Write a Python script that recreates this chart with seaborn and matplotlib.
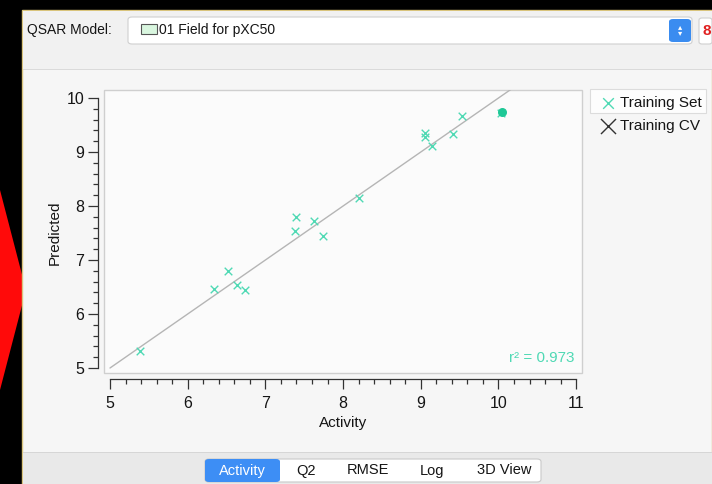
import numpy as np
import pandas as pd
import matplotlib
matplotlib.use('Agg')
import matplotlib.pyplot as plt
import matplotlib.patches as mpatches
from matplotlib.ticker import MultipleLocator
import seaborn as sns

# observed vs predicted activity (training set)
activity = [5.39, 6.34, 6.52, 6.64, 6.74, 7.38, 7.40, 7.63, 7.74, 8.20,
            9.05, 9.05, 9.14, 9.41, 9.53, 10.03]
predicted = [5.31, 6.46, 6.80, 6.53, 6.44, 7.54, 7.79, 7.72, 7.44, 8.15,
             9.36, 9.27, 9.12, 9.33, 9.67, 9.72]
selected_activity = [10.04]
selected_predicted = [9.75]
cv_activity = []
cv_predicted = []
identity_range = [5, 11]
r2 = 0.973

x_ticks = [5, 6, 7, 8, 9, 10, 11]
y_ticks = [5, 6, 7, 8, 9, 10]
tabs = ['Activity', 'Q2', 'RMSE', 'Log', '3D View']

W, H = 712, 484
TEAL = '#4fd9b4'
INK = '#151515'

sns.set_theme(style='white')
plt.rcParams['font.family'] = ['Liberation Sans', 'DejaVu Sans']


def fx(px):
    return px / W


def fy(py):
    return 1 - py / H


def box(fig, x0, y0, x1, y1, fc, ec='none', lw=1.0, round_=0, z=-1):
    if round_:
        p = mpatches.FancyBboxPatch((fx(x0), fy(y1)), (x1 - x0) / W, (y1 - y0) / H,
                                    boxstyle=f'round,pad=0,rounding_size={round_ / W}',
                                    transform=fig.transFigure, fc=fc, ec=ec, lw=lw, zorder=z)
    else:
        p = mpatches.Rectangle((fx(x0), fy(y1)), (x1 - x0) / W, (y1 - y0) / H,
                               transform=fig.transFigure, fc=fc, ec=ec, lw=lw, zorder=z)
    fig.patches.append(p)
    return p


fig = plt.figure(figsize=(W / 100, H / 100), dpi=100, facecolor='black')

# red arrow at the left edge
fig.patches.append(mpatches.Polygon([(fx(0), fy(190)), (fx(26), fy(290)), (fx(0), fy(390))],
                                    closed=True, transform=fig.transFigure, fc='#ff0a0a', ec='none',
                                    zorder=-1))

# window
box(fig, 22, 10, 712, 484, '#f6f6f6', ec='#d9c47c', lw=1.0)
box(fig, 23, 11, 712, 69, '#f1f1f1')
box(fig, 23, 69, 712, 70, '#dadada')

# model selector
fig.text(fx(27), fy(30), 'QSAR Model:', fontsize=10, color=INK, va='center')
box(fig, 128, 17, 692, 44, 'white', ec='#cfcfcf', lw=0.8, round_=4)
box(fig, 669, 19, 691, 42, '#3a8cf0', round_=4)
fig.text(fx(680), fy(30.5), '\u25b4\n\u25be', fontsize=6, color='white', ha='center', va='center',
         linespacing=0.7)
box(fig, 141, 24, 157, 34, '#d9f6df', ec='#555', lw=0.8)
fig.text(fx(159), fy(30), '01 Field for pXC50', fontsize=10, color=INK, va='center')
box(fig, 699, 18, 712, 44, 'white', ec='#cfcfcf', lw=0.8, round_=3)
fig.text(fx(707), fy(31), '8', fontsize=11, color='#e02020', ha='center', va='center', weight='bold')

# plot frame
box(fig, 104, 90, 582, 373, '#fbfbfb', ec='#cfcfcf', lw=1.0)

# bottom tab bar
box(fig, 23, 452, 712, 484, '#e9e9e9')
box(fig, 23, 452, 712, 453, '#d6d6d6')
box(fig, 205, 459, 541, 482, 'white', ec='#c9c9c9', lw=0.8, round_=4)
box(fig, 205, 459, 280, 482, '#3d8ef5', round_=4)
tab_x = [242, 306, 368, 432, 504]
for label, px in zip(tabs, tab_x):
    fig.text(fx(px), fy(470.5), label, fontsize=10.5, ha='center', va='center',
             color='white' if label == 'Activity' else INK)

# the plot itself
ax = fig.add_axes([fx(104), fy(375), (582 - 104) / W, (375 - 90) / H])
ax.set_facecolor('none')

df = pd.DataFrame({'Activity': activity, 'Predicted': predicted})
ax.plot(identity_range, identity_range, color='#b5b5b5', lw=1.0, zorder=1)
sns.scatterplot(data=df, x='Activity', y='Predicted', marker='x', color=TEAL, s=30,
                linewidth=1.0, ax=ax, label='Training Set', zorder=3)
ax.scatter(selected_activity, selected_predicted, marker='o', s=30, color='#1ec896', zorder=4)
ax.scatter(cv_activity, cv_predicted, marker='x', s=60, color='#333333', linewidth=1.0,
           label='Training CV')

ax.set_xlim(5 - 6 / 77.7, 5 + 472 / 77.7)
ax.set_ylim(5 - 7 / 54, 10 + 8 / 54)

ax.set_xticks(x_ticks)
ax.set_yticks(y_ticks)
ax.xaxis.set_minor_locator(MultipleLocator(0.2))
ax.yaxis.set_minor_locator(MultipleLocator(0.2))
ax.tick_params(which='major', direction='out', length=7, width=0.9, color='#333',
               labelsize=11.5, labelcolor=INK, pad=3)
ax.tick_params(axis='x', which='major', pad=5)
ax.tick_params(which='minor', direction='out', length=3.5, width=0.9, color='#333')
ax.tick_params(axis='x', which='both', bottom=True)
ax.tick_params(axis='y', which='both', left=True)

for side in ['top', 'right']:
    ax.spines[side].set_visible(False)
ax.spines['left'].set_position(('outward', 4.3))
ax.spines['bottom'].set_position(('outward', 3.0))
ax.spines['left'].set_bounds(5, 10)
ax.spines['bottom'].set_bounds(5, 11)
for side in ['left', 'bottom']:
    ax.spines[side].set_color('#333')
    ax.spines[side].set_linewidth(0.9)

ax.set_xlabel('Activity', fontsize=11, color=INK, labelpad=4)
ax.set_ylabel('Predicted', fontsize=11, color=INK, labelpad=3)

ax.text(0.985, 0.06, f'r\u00b2 = {r2:.3f}', transform=ax.transAxes, ha='right', va='center',
        fontsize=11, color=TEAL)

# legend at the right
box(fig, 590, 89, 706, 113, '#fdfdfd', ec='#dcdcdc', lw=0.8)
leg = ax.legend(loc='upper left', bbox_to_anchor=(fx(594), fy(90)),
                bbox_transform=fig.transFigure, frameon=False, fontsize=11,
                handletextpad=0.3, handlelength=1.0, borderaxespad=0, labelspacing=0.6,
                markerscale=1.4)
for t in leg.get_texts():
    t.set_color(INK)

plt.savefig('out.png', dpi=100, facecolor=fig.get_facecolor())
